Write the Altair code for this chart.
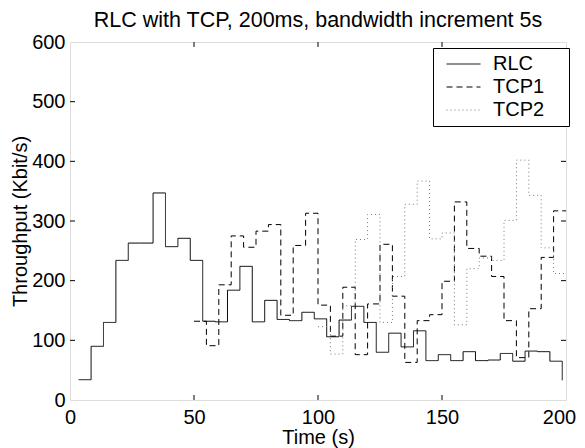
import altair as alt
import pandas as pd

# ---- data ----
rlc_t = [3.5, 8.5, 13.5, 18.5, 23.5, 28.5, 33.5, 38.5, 43.5, 48.5,
         53.5, 58.5, 63.5, 68.5, 73.5, 78.5, 83.5, 88.5, 93.5, 98.5,
         103.5, 108.5, 113.5, 118.5, 123.5, 128.5, 133.5, 138.5, 143.5, 148.5,
         153.5, 158.5, 163.5, 168.5, 173.5, 178.5, 183.5, 188.5, 193.5, 198.5]
rlc_v = [34, 90, 130, 234, 263, 263, 347, 257, 271, 234,
         132, 131, 184, 224, 131, 167, 135, 133, 147, 136,
         106, 134, 157, 130, 80, 112, 89, 116, 66, 76,
         66, 81, 66, 67, 78, 65, 82, 81, 65, 33]

tcp1_t = [50, 55, 60, 65, 70, 75, 80, 85, 90, 95,
          100, 105, 110, 115, 120, 125, 130, 135, 140, 145,
          150, 155, 160, 165, 170, 175, 180, 185, 190, 195, 200]
tcp1_v = [132, 91, 193, 275, 256, 283, 294, 142, 259, 313,
          159, 107, 189, 76, 161, 261, 174, 63, 133, 143,
          199, 332, 254, 241, 207, 133, 71, 153, 239, 317, 317]

tcp2_t = [100, 105, 110, 115, 120, 125, 130, 135, 140, 145,
          150, 155, 160, 165, 170, 175, 180, 185, 190, 195, 200]
tcp2_v = [123, 77, 158, 269, 311, 130, 207, 328, 367, 270,
          280, 126, 220, 238, 234, 301, 402, 343, 255, 212, 212]

series_names = ["RLC", "TCP1", "TCP2"]
x_ticks = [50, 100, 150]
y_ticks = [100, 200, 300, 400, 500]

title_text = "RLC with TCP, 200ms, bandwidth increment 5s"
x_title = "Time (s)"
y_title = "Throughput (Kbit/s)"

FONT = "Liberation Sans"
FS = 20
W, H = 496, 358
NB = "\u00a0"

rows = []
for name, ts, vs in zip(series_names, [rlc_t, tcp1_t, tcp2_t], [rlc_v, tcp1_v, tcp2_v]):
    for t, v in zip(ts, vs):
        rows.append({"t": t, "v": v, "series": name})
df = pd.DataFrame(rows)

xscale = alt.Scale(domain=[0, 200], nice=False, zero=False)
yscale = alt.Scale(domain=[0, 600], nice=False, zero=False)


def make_legend():
    return alt.Legend(title=NB, titleOrient="right", titlePadding=20,
                      titleFontSize=FS, titleFont=FONT,
                      orient="none", legendX=363, legendY=6,
                      symbolType="stroke", symbolSize=1156, symbolStrokeWidth=1,
                      labelFont=FONT, labelFontSize=FS, labelColor="black",
                      labelOffset=12, symbolOffset=8, padding=5, rowPadding=1,
                      clipHeight=22,
                      fillColor="white", strokeColor="black")


lines = alt.Chart(df).mark_line(interpolate="step-after", strokeWidth=1).encode(
    x=alt.X("t:Q", scale=xscale,
            axis=alt.Axis(title=x_title, values=[0, 50, 100, 150, 200], ticks=False,
                          domain=False, grid=False, labelFont=FONT, labelFontSize=FS,
                          labelColor="black", labelBaseline="alphabetic", labelPadding=23,
                          labelOffset={"condition": {"test": "datum.value == 200", "value": -7},
                                       "value": 0},
                          labelFlush=False, labelOverlap=False,
                          titleFont=FONT, titleFontSize=FS, titleFontWeight="normal",
                          titleColor="black", titleBaseline="alphabetic",
                          titleX=W / 2, titleY=43)),
    y=alt.Y("v:Q", scale=yscale,
            axis=alt.Axis(title=y_title, values=[0, 100, 200, 300, 400, 500, 600], ticks=False,
                          domain=False, grid=False, labelFont=FONT, labelFontSize=FS,
                          labelColor="black", labelPadding=5, labelFlush=False,
                          labelOverlap=False, labelBaseline="middle",
                          titleFont=FONT, titleFontSize=FS, titleFontWeight="normal",
                          titleColor="black", titleBaseline="middle",
                          titleX=-50, titleY=H / 2)),
    color=alt.Color("series:N",
                    scale=alt.Scale(domain=series_names, range=["#000000", "#000000", "#777777"]),
                    legend=make_legend()),
    strokeDash=alt.StrokeDash("series:N",
                              scale=alt.Scale(domain=series_names,
                                              range=[[1, 0], [6, 4], [1, 3]]),
                              legend=make_legend()),
)

xt = pd.DataFrame({"x": x_ticks})
yt = pd.DataFrame({"y": y_ticks})

bottom_ticks = alt.Chart(xt).mark_rule(color="black", strokeWidth=1).encode(
    x=alt.X("x:Q", scale=xscale), y=alt.value(H), y2=alt.value(H - 5))
top_ticks = alt.Chart(xt).mark_rule(color="black", strokeWidth=1).encode(
    x=alt.X("x:Q", scale=xscale), y=alt.value(0), y2=alt.value(5))
left_ticks = alt.Chart(yt).mark_rule(color="black", strokeWidth=1).encode(
    y=alt.Y("y:Q", scale=yscale), x=alt.value(0), x2=alt.value(5))
right_ticks = alt.Chart(yt).mark_rule(color="black", strokeWidth=1).encode(
    y=alt.Y("y:Q", scale=yscale), x=alt.value(W), x2=alt.value(W - 5))

chart = alt.layer(bottom_ticks, top_ticks, left_ticks, right_ticks, lines).properties(
    width=W, height=H,
    title=alt.TitleParams(title_text, font=FONT, fontSize=21.5, fontWeight="normal",
                          color="black", anchor="middle", frame="group",
                          baseline="alphabetic", offset=6, dy=22),
    padding={"left": 62, "top": 34, "right": 10, "bottom": 48},
    autosize=alt.AutoSizeParams(type="none"),
).configure_view(stroke="black", strokeWidth=1).configure(background="white")

chart.save("out.html", embed_options={"renderer": "svg", "actions": False})
